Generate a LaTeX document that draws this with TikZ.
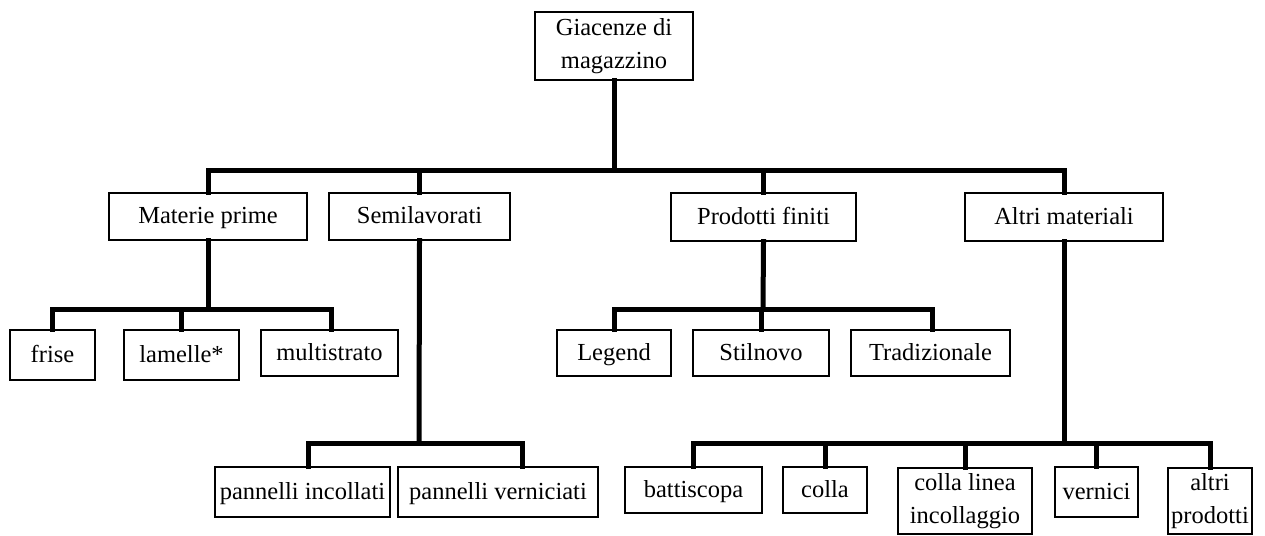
\documentclass[tikz,border=0pt]{standalone}
\usepackage{fontspec}
\setmainfont{Liberation Serif}
\begin{document}
\begin{tikzpicture}[x=1pt,y=-1pt,
  box/.style={draw=black,line width=1.3pt,rectangle,inner sep=0pt,align=center,
    font=\fontsize{24.5}{33}\selectfont},
  one/.style={box,text height=18pt,text depth=4pt},
  conn/.style={line width=5pt,line join=miter,line cap=rect}]
\useasboundingbox[fill=white] (0,0) rectangle (1265,535);
% level 0
\node[box,minimum width=158pt,minimum height=68pt] (root) at (614,46) {Giacenze di\\magazzino};
% level 1
\node[one,minimum width=198pt,minimum height=47pt] (mp) at (208,216.5) {Materie prime};
\node[one,minimum width=181pt,minimum height=47pt] (sl) at (419.5,216.5) {Semilavorati};
\node[one,minimum width=185pt,minimum height=48pt] (pf) at (763.5,217) {Prodotti finiti};
\node[one,minimum width=198pt,minimum height=48pt] (am) at (1064,217) {Altri materiali};
% level 2 - materie prime
\node[one,minimum width=85pt,minimum height=50pt] (frise) at (52.5,355) {frise};
\node[one,minimum width=115pt,minimum height=50pt] (lam) at (181.5,355) {lamelle*};
\node[one,minimum width=137pt,minimum height=46pt] (multi) at (329.5,353) {multistrato};
% level 2 - prodotti finiti
\node[one,minimum width=114pt,minimum height=46pt] (legend) at (614,353) {Legend};
\node[one,minimum width=136pt,minimum height=46pt] (stil) at (761,353) {Stilnovo};
\node[one,minimum width=159pt,minimum height=46pt] (trad) at (930.5,353) {Tradizionale};
% level 2 - semilavorati
\node[one,minimum width=175pt,minimum height=50pt] (pi) at (302.5,492) {pannelli incollati};
\node[one,minimum width=200pt,minimum height=50pt] (pv) at (498,492) {pannelli verniciati};
% level 2 - altri materiali
\node[one,minimum width=137pt,minimum height=46pt] (batt) at (693.5,490) {battiscopa};
\node[one,minimum width=84pt,minimum height=46pt] (colla) at (825,490) {colla};
\node[box,minimum width=134pt,minimum height=66pt] (cli) at (965,501) {colla linea\\incollaggio};
\node[one,minimum width=83pt,minimum height=50pt] (vern) at (1096.5,492) {vernici};
\node[box,minimum width=84pt,minimum height=66pt] (ap) at (1210,501) {altri\\prodotti};
% bus coordinates
\coordinate (bus0) at (614,170);
\coordinate (busmp) at (208,309);
\coordinate (buspf) at (763,309);
\coordinate (bussl) at (419,443);
\coordinate (busam) at (1064,443);
% root connectors
\draw[conn] (root.south) -- (bus0);
\draw[conn] (mp.north) -- (mp.north |- bus0) -- (am.north |- bus0) -- (am.north);
\draw[conn] (sl.north) -- (sl.north |- bus0);
\draw[conn] (pf.north) -- (pf.north |- bus0);
% materie prime
\draw[conn] (mp.south) -- (busmp);
\draw[conn] (frise.north) -- (frise.north |- busmp) -- ([xshift=1.5pt]multi.north |- busmp) -- ([xshift=1.5pt]multi.north);
\draw[conn] (lam.north) -- (lam.north |- busmp);
% prodotti finiti
\draw[conn] (pf.south) -- (buspf);
\draw[conn] (legend.north) -- (legend.north |- buspf) -- ([xshift=1.5pt]trad.north |- buspf) -- ([xshift=1.5pt]trad.north);
\draw[conn] (stil.north) -- (stil.north |- buspf);
% semilavorati
\draw[conn] (sl.south) -- (bussl);
\draw[conn] ([xshift=5.5pt]pi.north) -- ([xshift=5.5pt]pi.north |- bussl) -- ([xshift=24pt]pv.north |- bussl) -- ([xshift=24pt]pv.north);
% altri materiali
\draw[conn] (am.south) -- (busam);
\draw[conn] (batt.north) -- (batt.north |- busam) -- (ap.north |- busam) -- (ap.north);
\draw[conn] (colla.north) -- (colla.north |- busam);
\draw[conn] (cli.north) -- (cli.north |- busam);
\draw[conn] (vern.north) -- (vern.north |- busam);
\end{tikzpicture}
\end{document}
